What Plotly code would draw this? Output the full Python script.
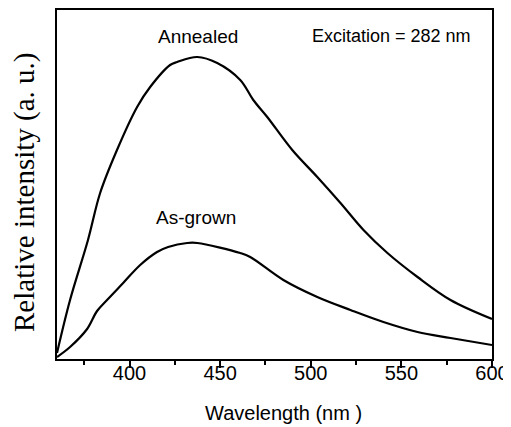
import plotly.graph_objects as go

# Wavelength (nm) and relative intensity (a. u.)
wl_annealed = [360, 367.2, 377.1, 383.8, 393.1, 404.2, 411.4, 422.4, 426.3, 437.4,
               448.4, 461.1, 468.3, 476.0, 489.8, 503.6, 516.4, 529.1, 542.3, 558.9,
               577.1, 600]
int_annealed = [6, 59, 119, 166, 209, 252, 272, 294, 297, 302,
                296, 279, 259, 242, 209, 182, 156, 129, 106, 82,
                59, 40]

wl_asgrown = [360, 367.2, 376.6, 382.1, 387.6, 396.5, 405.9, 415.2, 421.3, 431.8,
              437.4, 461.1, 466.6, 484.9, 503.6, 521.9, 540.1, 558.9, 577.1, 600]
int_asgrown = [2, 12, 30, 48, 59, 76, 94, 107, 112, 116,
               116, 106, 102, 79, 62, 49, 37, 27, 21, 14]

x_ticks = [400, 450, 500, 550, 600]

fig = go.Figure()
fig.add_trace(go.Scatter(x=wl_annealed, y=int_annealed, mode="lines",
                         line=dict(color="black", width=2.2, shape="spline", smoothing=1.0),
                         showlegend=False))
fig.add_trace(go.Scatter(x=wl_asgrown, y=int_asgrown, mode="lines",
                         line=dict(color="black", width=2.2, shape="spline", smoothing=1.0),
                         showlegend=False))

sans = "Liberation Sans, Arial, sans-serif"
serif = "Liberation Serif, Times New Roman, serif"

# the page body adds an 8px offset, so the figure is sized to compensate
fig.update_layout(
    width=503, height=419,
    margin=dict(l=49, r=19, t=2, b=68, autoexpand=False),
    plot_bgcolor="white", paper_bgcolor="white",
    font=dict(family=sans, size=20, color="black"),
    xaxis=dict(range=[360, 600], tickvals=x_ticks, ticktext=[str(v) for v in x_ticks],
               showgrid=False, zeroline=False, showline=True, mirror=True,
               linecolor="black", linewidth=2, ticks="outside", ticklen=7,
               tickwidth=2, tickcolor="black", ticklabelstandoff=-12,
               tickfont=dict(family=sans, size=20, color="black"),
               minor=dict(dtick=25, tick0=375, ticks="outside", ticklen=4,
                          tickwidth=2, tickcolor="black")),
    yaxis=dict(range=[0, 349], showticklabels=False, ticks="", showgrid=False,
               zeroline=False, showline=True, mirror=True,
               linecolor="black", linewidth=2),
    annotations=[
        dict(text="Annealed", x=437.9, y=323, xref="x", yref="y", showarrow=False,
             xanchor="center", yanchor="middle",
             font=dict(family=sans, size=19, color="black")),
        dict(text="Excitation = 282 nm", x=544.5, y=323, xref="x", yref="y", showarrow=False,
             xanchor="center", yanchor="middle",
             font=dict(family=sans, size=18, color="black")),
        dict(text="As-grown", x=436.8, y=142, xref="x", yref="y", showarrow=False,
             xanchor="center", yanchor="middle",
             font=dict(family=sans, size=19, color="black")),
        dict(text="Wavelength (nm )", x=0.5207, y=-0.1547, xref="paper", yref="paper",
             xanchor="center", yanchor="middle",
             showarrow=False, font=dict(family=sans, size=20, color="black")),
        dict(text="Relative intensity (a. u.)", x=-0.0759, y=0.4785, xref="paper", yref="paper",
             xanchor="center", yanchor="middle",
             textangle=-90, showarrow=False,
             font=dict(family=serif, size=29, color="black")),
    ],
)

fig.write_html("out.html")
